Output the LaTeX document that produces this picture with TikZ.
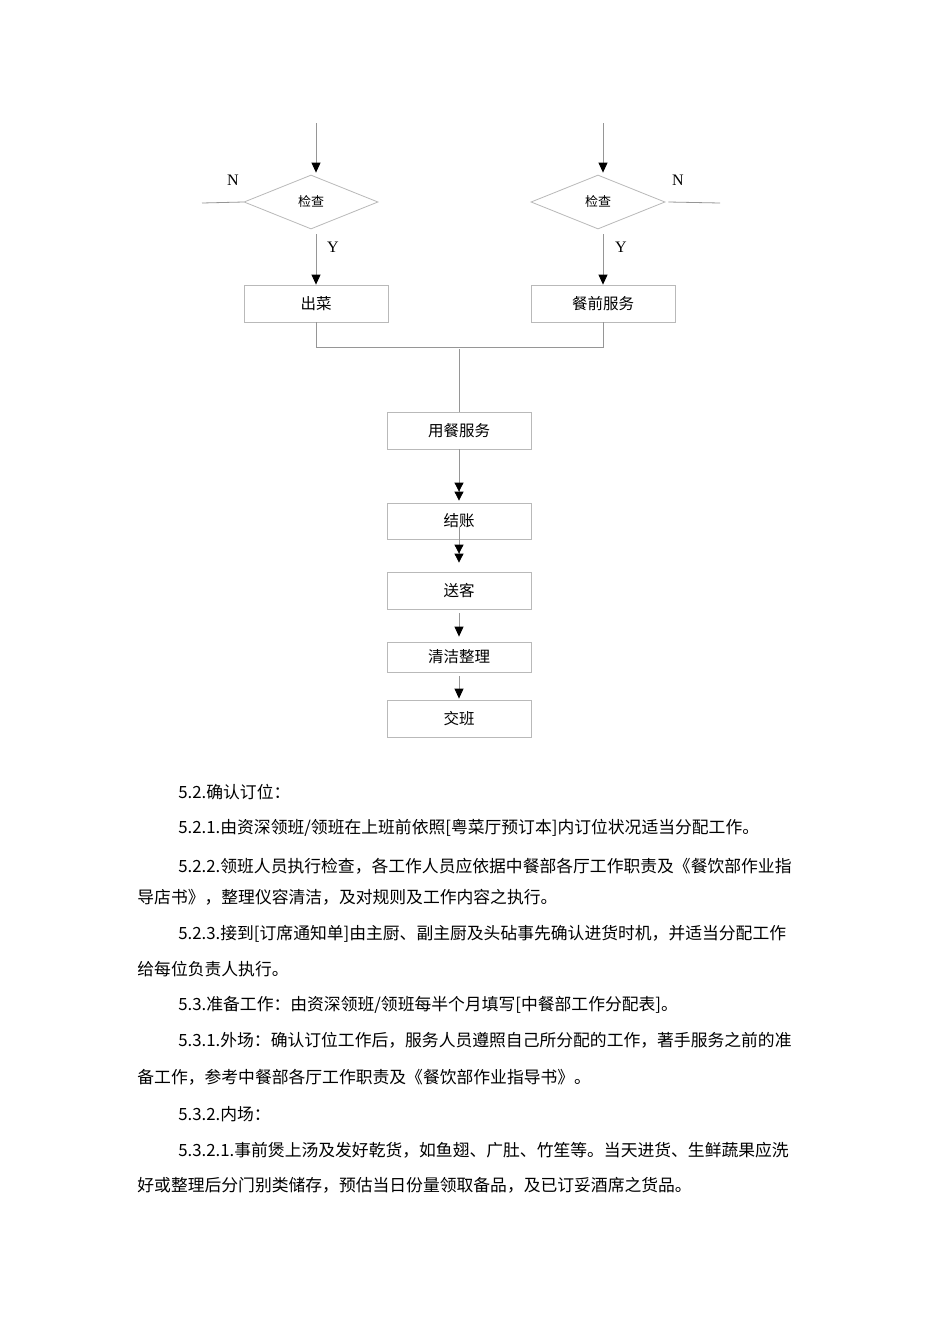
\documentclass[tikz,border=0pt]{standalone}
\usepackage{fontspec}
\setmainfont{Liberation Serif}
\newfontfamily\cjk{Noto Sans CJK SC}
\usetikzlibrary{shapes.geometric,arrows.meta}
\definecolor{boxgray}{RGB}{185,185,185}
\definecolor{linegray}{RGB}{150,150,150}

\begin{document}
\begin{tikzpicture}[x=1pt,y=-1pt,line width=0.8pt,
box node/.style={rectangle,draw=boxgray,minimum width=144pt,minimum height=37pt,inner sep=0pt,font=\cjk\fontsize{15.5}{18}\selectfont},
check node/.style={diamond,draw=boxgray,minimum width=134pt,minimum height=54pt,inner sep=0pt,font=\cjk\fontsize{13}{15}\selectfont},
flow/.style={draw=linegray,-{Triangle[length=10pt,width=9pt,color=black]}},
double flow/.style={draw=linegray,-{Triangle[length=9pt,width=9pt,color=black] Triangle[length=9pt,width=9pt,color=black]}},
plain/.style={draw=linegray},
para/.style={anchor=west,inner sep=0pt,font=\cjk\fontsize{16.8}{20}\selectfont}]
\useasboundingbox[fill=white] (0,0) rectangle (950,1344);
\begin{scope}[every node/.style={check node}]
\node (chk1) at (311,202) {检查};
\node (chk2) at (598,202) {检查};
\end{scope}
\begin{scope}[every node/.style={box node}]
\node (cai) at (316,303.5) {出菜};
\node (qian) at (603,303.5) {餐前服务};
\node (yongcan) at (459,430.5) {用餐服务};
\node[minimum height=36pt] (jiezhang) at (459,521) {结账};
\node (songke) at (459,590.5) {送客};
\node[minimum height=30pt] (qingjie) at (459,657) {清洁整理};
\node (jiaoban) at (459,718.5) {交班};
\end{scope}
\begin{scope}[every node/.style={font=\fontsize{16}{18}\selectfont,inner sep=0pt}]
\node (n1) at (233,180) {N};
\node (n2) at (678,180) {N};
\node (y1) at (333,247) {Y};
\node (y2) at (621,247) {Y};
\end{scope}
\coordinate (in1) at (316,123);
\coordinate (in2) at (603,123);
\coordinate (nl) at (202,203);
\coordinate (nr) at (720,203);
\coordinate (join) at (459,347);
%top part
\draw[flow,shorten >=2pt] (in1) -- (in1 |- chk1.north);
\draw[flow,shorten >=2pt] (in2) -- (in2 |- chk2.north);
\draw[plain] (nl) -- (chk1.west);
\draw[plain] (nr) -- ([xshift=3pt]chk2.east);
\draw[flow,shorten <=5pt] (cai.north |- chk1.south) -- (cai.north);
\draw[flow,shorten <=5pt] (qian.north |- chk2.south) -- (qian.north);
\draw[plain] (cai.south) |- (join);
\draw[plain] (qian.south) |- (join);
\draw[plain,shorten <=2pt] (join) -- (yongcan.north);
%down the middle
\draw[double flow,shorten >=2pt] (yongcan.south) -- (jiezhang.north);
\draw[double flow,shorten >=9pt] ([yshift=-6pt]jiezhang.center) -- (songke.north);
\draw[flow,shorten <=4pt,shorten >=5pt] (songke.south) -- (qingjie.north);
\draw[flow,shorten <=4pt,shorten >=1pt] (qingjie.south) -- (jiaoban.north);
\begin{scope}[every node/.style={para}]
\node (p1) at (178,792) {5.2.确认订位：};
\node (p2) at (178,828) {5.2.1.由资深领班/领班在上班前依照[粤菜厅预订本]内订位状况适当分配工作。};
\node (p3) at (178,866) {5.2.2.领班人员执行检查，各工作人员应依据中餐部各厅工作职责及《餐饮部作业指};
\node (p4) at (137,897) {导店书》，整理仪容清洁，及对规则及工作内容之执行。};
\node (p5) at (178,934) {5.2.3.接到[订席通知单]由主厨、副主厨及头砧事先确认进货时机，并适当分配工作};
\node (p6) at (137,969) {给每位负责人执行。};
\node (p7) at (178,1005) {5.3.准备工作：由资深领班/领班每半个月填写[中餐部工作分配表]。};
\node (p8) at (178,1040) {5.3.1.外场：确认订位工作后，服务人员遵照自己所分配的工作，著手服务之前的准};
\node (p9) at (137,1077) {备工作，参考中餐部各厅工作职责及《餐饮部作业指导书》。};
\node (p10) at (178,1114) {5.3.2.内场：};
\node (p11) at (178,1150) {5.3.2.1.事前煲上汤及发好乾货，如鱼翅、广肚、竹笙等。当天进货、生鲜蔬果应洗};
\node (p12) at (137,1185) {好或整理后分门别类储存，预估当日份量领取备品，及已订妥酒席之货品。};
\end{scope}
\end{tikzpicture}
\end{document}
